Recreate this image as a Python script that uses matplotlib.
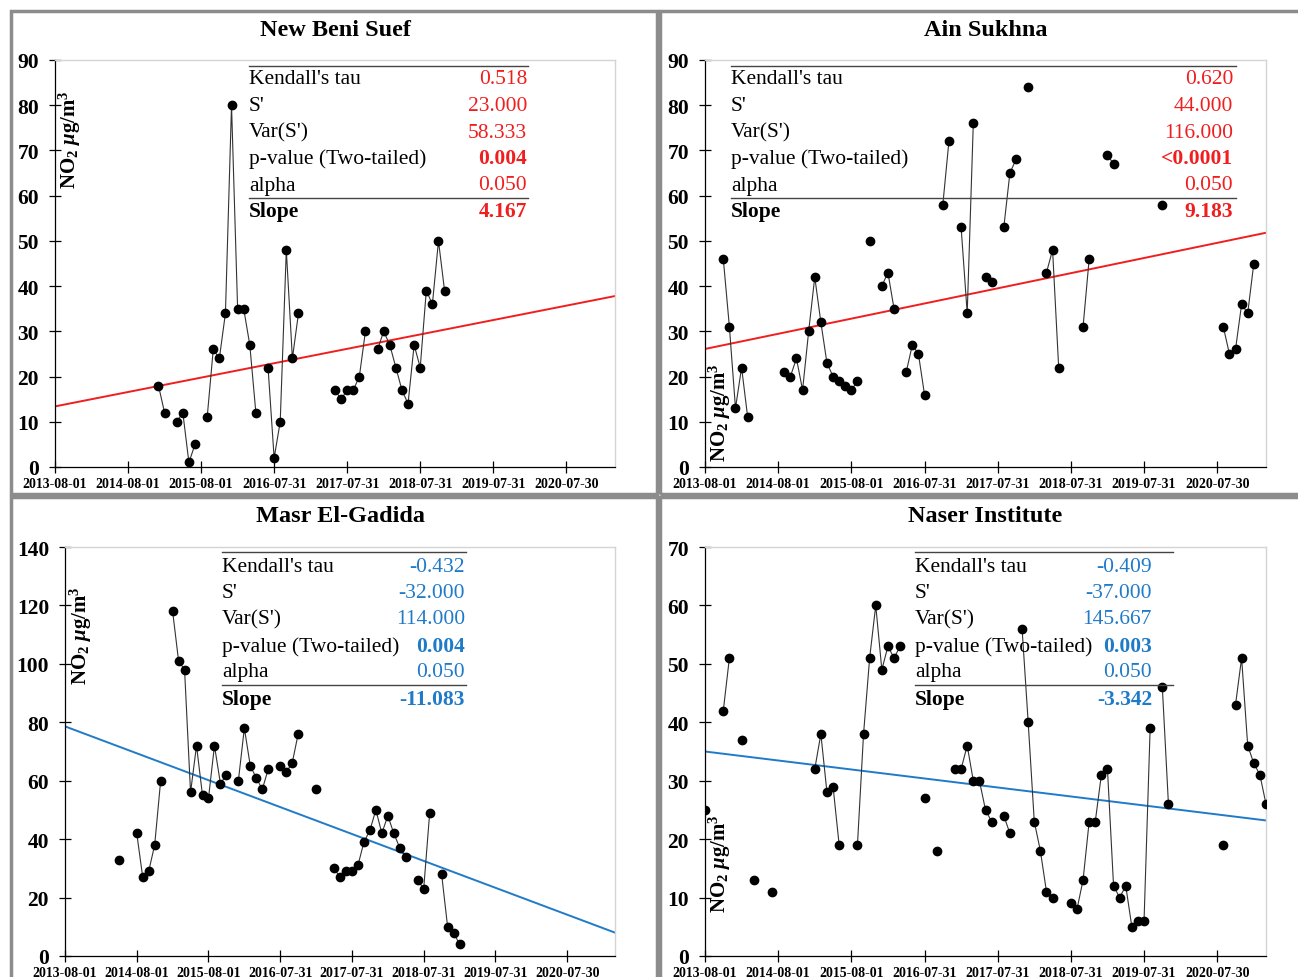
import numpy as np
import matplotlib.pyplot as plt
from matplotlib.lines import Line2D
from matplotlib.patches import Rectangle

plt.rcParams['font.family'] = ['Liberation Serif', 'DejaVu Serif']
plt.rcParams['mathtext.fontset'] = 'custom'
plt.rcParams['mathtext.rm'] = 'Liberation Serif:bold'
plt.rcParams['mathtext.bf'] = 'Liberation Serif:bold'
plt.rcParams['mathtext.it'] = 'Liberation Serif:italic:bold'

W, H = 1298, 978

# x positions are months counted from 2013-08-01
tick_months = [0, 12, 24, 36, 48, 60, 72, 84]
tick_labels = ['2013-08-01', '2014-08-01', '2015-08-01', '2016-07-31',
               '2017-07-31', '2018-07-31', '2019-07-31', '2020-07-30']

stat_names = ["Kendall's tau", "S'", "Var(S')", "p-value (Two-tailed)", "alpha", "Slope"]

# New Beni Suef
nbs_months = [17, 18, 20, 21, 22, 23, 25, 26, 27, 28, 29, 30, 31, 32, 33,
              35, 36, 37, 38, 39, 40, 46, 47, 48, 49, 50, 51,
              53, 54, 55, 56, 57, 58, 59, 60, 61, 62, 63, 64]
nbs_values = [18, 12, 10, 12, 1, 5, 11, 26, 24, 34, 80, 35, 35, 27, 12,
              22, 2, 10, 48, 24, 34, 17, 15, 17, 17, 20, 30,
              26, 30, 27, 22, 17, 14, 27, 22, 39, 36, 50, 39]
nbs_trend = [13.4, 37.8]
nbs_stats = ['0.518', '23.000', '58.333', '0.004', '0.050', '4.167']

# Ain Sukhna
ain_months = [3, 4, 5, 6, 7, 13, 14, 15, 16, 17, 18, 19, 20, 21, 22, 23, 24, 25,
              27, 29, 30, 31, 33, 34, 35, 36, 39, 40, 42, 43, 44, 46, 47,
              49, 50, 51, 53, 56, 57, 58, 62, 63, 66, 67, 75,
              85, 86, 87, 88, 89, 90]
ain_values = [46, 31, 13, 22, 11, 21, 20, 24, 17, 30, 42, 32, 23, 20, 19, 18, 17, 19,
              50, 40, 43, 35, 21, 27, 25, 16, 58, 72, 53, 34, 76, 42, 41,
              53, 65, 68, 84, 43, 48, 22, 31, 46, 69, 67, 58,
              31, 25, 26, 36, 34, 45]
ain_trend = [26.1, 51.8]
ain_stats = ['0.620', '44.000', '116.000', '<0.0001', '0.050', '9.183']

# Masr El-Gadida
meg_months = [9, 12, 13, 14, 15, 16, 18, 19, 20, 21, 22, 23, 24, 25, 26, 27,
              29, 30, 31, 32, 33, 34, 36, 37, 38, 39, 42,
              45, 46, 47, 48, 49, 50, 51, 52, 53, 54, 55, 56, 57,
              59, 60, 61, 63, 64, 65, 66]
meg_values = [33, 42, 27, 29, 38, 60, 118, 101, 98, 56, 72, 55, 54, 72, 59, 62,
              60, 78, 65, 61, 57, 64, 65, 63, 66, 76, 57,
              30, 27, 29, 29, 31, 39, 43, 50, 42, 48, 42, 37, 34,
              26, 23, 49, 28, 10, 8, 4]
meg_trend = [78.6, 8.0]
meg_stats = ['-0.432', '-32.000', '114.000', '0.004', '0.050', '-11.083']

# Naser Institute
nas_months = [0, 3, 4, 6, 8, 11, 18, 19, 20, 21, 22, 25, 26, 27, 28, 29, 30, 31, 32,
              36, 38, 41, 42, 43, 44, 45, 46, 47, 49, 50,
              52, 53, 54, 55, 56, 57, 60, 61, 62, 63, 64, 65, 66, 67, 68, 69, 70, 71, 72, 73,
              75, 76, 85, 87, 88, 89, 90, 91, 92]
nas_values = [25, 42, 51, 37, 13, 11, 32, 38, 28, 29, 19, 19, 38, 51, 60, 49, 53, 51, 53,
              27, 18, 32, 32, 36, 30, 30, 25, 23, 24, 21,
              56, 40, 23, 18, 11, 10, 9, 8, 13, 23, 23, 31, 32, 12, 10, 12, 5, 6, 6, 39,
              46, 26, 19, 43, 51, 36, 33, 31, 26]
nas_trend = [35.0, 23.2]
nas_stats = ['-0.409', '-37.000', '145.667', '0.003', '0.050', '-3.342']

RED = '#f01e1e'
BLUE = '#1f7ac8'

panels = [
    dict(title='New Beni Suef', months=nbs_months, values=nbs_values, trend=nbs_trend,
         stats=nbs_stats, color=RED, ymax=90, ystep=10,
         box=(11, 12, 657, 495), ax=(55, 615, 61, 468), title_y=30, ylab=(70, 140),
         tab=(249, 527, 528, 67, 199, [80, 106.5, 133, 159.5, 186, 212])),
    dict(title='Ain Sukhna', months=ain_months, values=ain_values, trend=ain_trend,
         stats=ain_stats, color=RED, ymax=90, ystep=10,
         box=(660, 12, 1302, 495), ax=(705, 1266, 61, 468), title_y=30, ylab=(720, 413),
         tab=(731, 1233, 1236, 67, 199, [80, 106.5, 133, 159.5, 186, 212])),
    dict(title='Masr El-Gadida', months=meg_months, values=meg_values, trend=meg_trend,
         stats=meg_stats, color=BLUE, ymax=140, ystep=20,
         box=(11, 498, 657, 982), ax=(65, 615, 548, 957), title_y=517, ylab=(81, 636),
         tab=(222, 465, 466, 553, 686, [568, 594, 620, 647, 673, 700])),
    dict(title='Naser Institute', months=nas_months, values=nas_values, trend=nas_trend,
         stats=nas_stats, color=BLUE, ymax=70, ystep=10,
         box=(660, 498, 1302, 982), ax=(705, 1266, 548, 957), title_y=517, ylab=(720, 864),
         tab=(915, 1152, 1173, 553, 686, [568, 594, 620, 647, 673, 700])),
]

fig = plt.figure(figsize=(W / 100, H / 100), dpi=100)


def fx(x):
    return x / W


def fy(y):
    return 1 - y / H


for p in panels:
    bx0, by0, bx1, by1 = p['box']
    fig.add_artist(Rectangle((fx(bx0), fy(by1)), fx(bx1 - bx0), (by1 - by0) / H,
                             transform=fig.transFigure, fill=False,
                             edgecolor='#8c8c8c', linewidth=2.5))

    l, r, t, b = p['ax']
    ax = fig.add_axes([fx(l), fy(b), fx(r - l), (b - t) / H])
    ax.set_xlim(0, 92)
    ax.set_ylim(0, p['ymax'])

    # split series where months are missing
    m = np.array(p['months'])
    v = np.array(p['values'])
    breaks = np.where(np.diff(m) > 1)[0] + 1
    for seg_m, seg_v in zip(np.split(m, breaks), np.split(v, breaks)):
        ax.plot(seg_m, seg_v, '-', color='#333333', lw=0.8, zorder=2)
        ax.plot(seg_m, seg_v, 'o', color='black', ms=6, zorder=3)

    ax.plot([0, 92], p['trend'], color=p['color'], lw=1.4, zorder=1)

    ax.set_xticks(tick_months)
    ax.set_xticklabels(tick_labels, fontsize=10, fontweight='bold')
    ax.set_yticks(np.arange(0, p['ymax'] + 1, p['ystep']))
    ax.set_yticklabels([str(int(y)) for y in np.arange(0, p['ymax'] + 1, p['ystep'])],
                       fontsize=15.5, fontweight='bold')
    ax.tick_params(axis='y', direction='inout', length=9, width=0.9, pad=7)
    ax.tick_params(axis='x', direction='inout', length=8, width=0.9, pad=3.5)
    for s in ['left', 'bottom']:
        ax.spines[s].set_color('black')
        ax.spines[s].set_linewidth(0.9)
    for s in ['top', 'right']:
        ax.spines[s].set_color('#d4d4d4')
        ax.spines[s].set_linewidth(1.0)

    fig.text(fx((l + r) / 2), fy(p['title_y']), p['title'], fontsize=17.5,
             fontweight='bold', ha='center', va='center')
    fig.text(fx(p['ylab'][0]), fy(p['ylab'][1]), r'NO$_{2}$ $\mu$g/m$^{3}$',
             fontsize=15, fontweight='bold', rotation=90, ha='center', va='center')

    x0, xv, x1, ytop, ysep, rows = p['tab']
    for yy in (ytop, ysep):
        fig.add_artist(Line2D([fx(x0), fx(x1)], [fy(yy), fy(yy)],
                              transform=fig.transFigure, color='#444444', lw=1.0))
    for i, (name, val) in enumerate(zip(stat_names, p['stats'])):
        bold_name = 'bold' if name == 'Slope' else 'normal'
        bold_val = 'bold' if name in ('Slope', 'p-value (Two-tailed)') else 'normal'
        fig.text(fx(x0), fy(rows[i]), name, fontsize=15.5, fontweight=bold_name,
                 ha='left', va='center')
        fig.text(fx(xv), fy(rows[i]), val, fontsize=15.5, fontweight=bold_val,
                 color=p['color'], ha='right', va='center')

fig.savefig('out.png', dpi=100)
